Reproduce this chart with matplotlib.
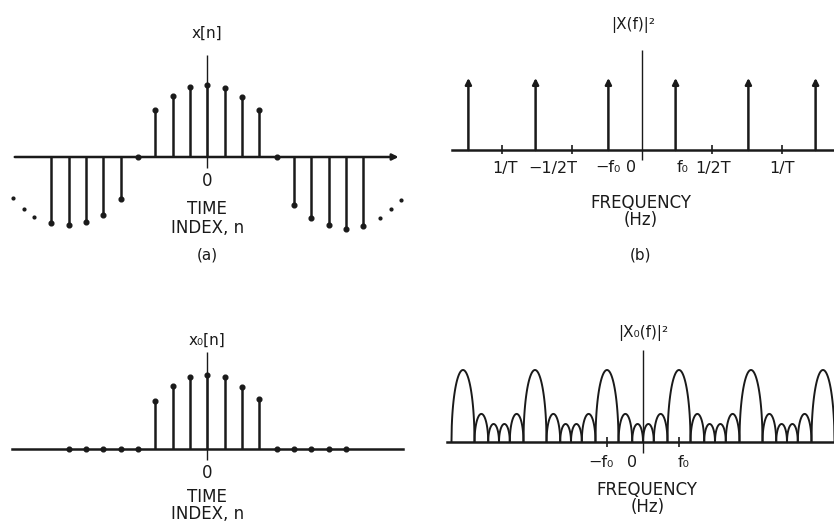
import numpy as np
import matplotlib
matplotlib.use("Agg")
import matplotlib.pyplot as plt

# ---------------- data ----------------
# (a) x[n], n = -9..9
n_a = list(range(-9, 10))
x_a = [-0.92, -0.94, -0.90, -0.81, -0.58, 0.0, 0.65, 0.85, 0.97, 1.0,
       0.96, 0.84, 0.65, 0.0, -0.67, -0.85, -0.94, -1.0, -0.96]
# ellipsis dots continuing the sequence
dots_left_n = [-11.2, -10.6, -10.0]
dots_left_v = [-0.57, -0.72, -0.83]
dots_right_n = [9.95, 10.6, 11.2]
dots_right_v = [-0.85, -0.72, -0.60]

# (c) x0[n], n = -8..8 (windowed)
n_c = list(range(-8, 9))
x_c = [0, 0, 0, 0, 0, 0.65, 0.85, 0.97, 1.0, 0.97, 0.84, 0.68, 0, 0, 0, 0, 0]

# (b) |X(f)|^2 impulses (T = 1)
f_b = [-1.24, -0.76, -0.24, 0.24, 0.76, 1.24]
h_b = [1, 1, 1, 1, 1, 1]
ticks_b = [-1.0, -0.5, 0.5, 1.0]
ticklabels_b = ["1/T", "\u22121/2T", "\u2212f\u2080", "0", "f\u2080", "1/2T", "1/T"]
ticklabel_pos_b = [-0.98, -0.64, -0.245, -0.075, 0.29, 0.51, 1.0]

# (d) |X0(f)|^2 lobes
main_centers_d = [-1.25, -0.75, -0.25, 0.25, 0.75, 1.25]
main_height_d = 1.0
main_width_d = 0.16
side_heights_d = [0.39, 0.25, 0.25, 0.39]
side_widths_d = [0.095, 0.075, 0.075, 0.095]
ticks_d = [-0.25, 0.25]
ticklabels_d = ["\u2212f\u2080", "0", "f\u2080"]
ticklabel_pos_d = [-0.29, -0.076, 0.28]

W, H = 834, 526
fig = plt.figure(figsize=(W / 100, H / 100), dpi=100)
plt.rcParams['font.family'] = ['DejaVu Sans']
INK = "#1a1a1a"
LW = 1.8
FS = 12


def make_axes(left, right, top, bottom):
    return fig.add_axes([left / W, 1 - bottom / H, (right - left) / W, (bottom - top) / H])


def clean(ax):
    ax.set_axis_off()


def label(ax, x, y, s, fs=FS):
    ax.text(x, y, s, ha="center", va="center", fontsize=fs, color=INK)


# ---------- (a) ----------
axa = make_axes(8, 410, 15, 270)
axa.set_xlim(-11.5, 11.7)
axa.set_ylim(-(270 - 157) / 72, (157 - 15) / 72)
clean(axa)
axa.annotate("", xy=(11.2, 0), xytext=(-11.27, 0),
             arrowprops=dict(arrowstyle="-|>", color=INK, lw=LW, mutation_scale=9))
axa.vlines(0, -0.15, 1.42, color=INK, lw=1.0)
axa.vlines(n_a, 0, x_a, color=INK, lw=LW)
axa.plot(n_a, x_a, "o", color=INK, ms=3.4)
axa.plot(dots_left_n, dots_left_v, "o", color=INK, ms=2)
axa.plot(dots_right_n, dots_right_v, "o", color=INK, ms=2)
label(axa, 0, 1.72, "x[n]", FS - 1)
label(axa, 0, -0.33, "0")
label(axa, 0, -0.72, "TIME")
label(axa, 0, -0.99, "INDEX, n")
label(axa, 0, -1.36, "(a)", FS - 1)

# ---------- (c) ----------
axc = make_axes(8, 410, 300, 526)
axc.set_xlim(-11.5, 11.7)
axc.set_ylim(-(526 - 449) / 74, (449 - 300) / 74)
clean(axc)
axc.plot([-11.27, 11.3], [0, 0], color=INK, lw=LW)
axc.vlines(0, -0.15, 1.31, color=INK, lw=1.0)
axc.vlines(n_c, 0, x_c, color=INK, lw=LW)
axc.plot(n_c, x_c, "o", color=INK, ms=3.4)
label(axc, 0, 1.47, "x\u2080[n]", FS - 1)
label(axc, 0, -0.32, "0")
label(axc, 0, -0.655, "TIME")
label(axc, 0, -0.88, "INDEX, n")

# ---------- (b) ----------
axb = make_axes(440, 834, 15, 270)
axb.set_xlim(-(642 - 440) / 140, (834 - 642) / 140)
axb.set_ylim(-(270 - 150) / 72, (150 - 15) / 72)
clean(axb)
axb.plot([-1.357, 1.371], [0, 0], color=INK, lw=LW)
axb.vlines(0, -0.14, 1.39, color=INK, lw=1.0)
for f, h in zip(f_b, h_b):
    axb.annotate("", xy=(f, h), xytext=(f, 0),
                 arrowprops=dict(arrowstyle="-|>", color=INK, lw=LW, mutation_scale=9,
                                 shrinkA=0, shrinkB=0))
axb.vlines(ticks_b, -0.06, 0.07, color=INK, lw=1.2)
for lab, x in zip(ticklabels_b, ticklabel_pos_b):
    label(axb, x, -0.25, lab, FS - 0.5)
label(axb, -0.06, 1.74, "|X(f)|\u00b2", FS - 1)
label(axb, -0.01, -0.74, "FREQUENCY")
label(axb, -0.01, -0.97, "(Hz)")
label(axb, -0.01, -1.46, "(b)", FS - 1)

# ---------- (d) ----------
axd = make_axes(440, 834, 300, 526)
axd.set_xlim(-(643 - 440) / 144, (834 - 643) / 144)
axd.set_ylim(-(526 - 442) / 72, (442 - 300) / 72)
clean(axd)
axd.plot([-1.36, 1.33], [0, 0], color=INK, lw=LW)
axd.vlines(0, -0.15, 1.28, color=INK, lw=1.0)


def arch(ax, c, w, h):
    u = np.linspace(-1, 1, 81)
    ax.plot(c + u * w / 2, h * np.sqrt(np.clip(1 - u ** 2, 0, 1)), color=INK, lw=1.4)


for i, c in enumerate(main_centers_d):
    arch(axd, c, main_width_d, main_height_d)
    if i < len(main_centers_d) - 1:
        x0 = c + main_width_d / 2
        for sh, sw in zip(side_heights_d, side_widths_d):
            arch(axd, x0 + sw / 2, sw, sh)
            x0 += sw
axd.vlines(ticks_d, -0.07, 0.07, color=INK, lw=1.2)
for lab, x in zip(ticklabels_d, ticklabel_pos_d):
    label(axd, x, -0.28, lab, FS - 0.5)
label(axd, 0, 1.51, "|X\u2080(f)|\u00b2", FS - 1)
label(axd, 0.03, -0.67, "FREQUENCY")
label(axd, 0.03, -0.90, "(Hz)")

fig.savefig("out.png", dpi=100, facecolor="white")
